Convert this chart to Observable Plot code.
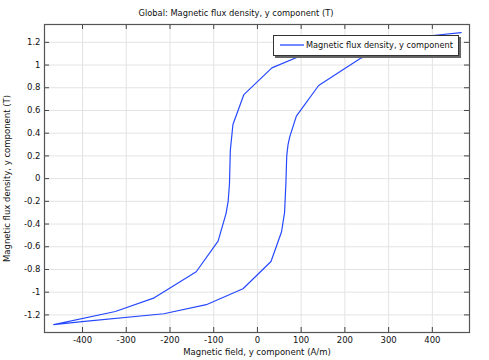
<!DOCTYPE html>
<html>
<head>
<meta charset="utf-8">
<script src="https://cdn.jsdelivr.net/npm/d3@7"></script>
<script src="https://cdn.jsdelivr.net/npm/@observablehq/plot@0.6"></script>
<style>
  body { margin: 0; background: #fff; }
  #wrap { position: relative; width: 489px; height: 360px; font-family: "DejaVu Sans", sans-serif; }
  #title { position: absolute; top: 8px; left: 0; width: 472px; text-align: center; font-size: 8.3px; color: #111; white-space: nowrap; }
  #legend { position: absolute; left: 273px; top: 35px; width: 186px; height: 21px; background: #fff; border: 1px solid #333;
            box-shadow: 2px 2px 0 #666; box-sizing: border-box; font-size: 8.2px; color: #111; white-space: nowrap; }
  #legend svg { position: absolute; left: 6px; top: 5px; }
  #legend .lb { position: absolute; left: 32px; top: 4px; }
</style>
</head>
<body>
<div id="wrap">
  <div id="title">Global: Magnetic flux density, y component (T)</div>
  <div id="chart"></div>
  <div id="legend"><svg width="24" height="8"><line x1="0" x2="24" y1="4" y2="4" stroke="#2649ff" stroke-width="1.3"/></svg><span class="lb">Magnetic flux density, y component</span></div>
</div>
<script>
// Hysteresis loop: ascending branch then descending branch
const H = [-466, -401, -214, -117, -33, 31, 55, 62, 65, 67, 70, 74, 89, 140, 236, 325, 401, 466,
           401, 214, 117, 33, -31, -56, -62, -64, -67, -72, -90, -140, -236, -325, -466];
const B = [-1.285, -1.26, -1.19, -1.11, -0.97, -0.73, -0.47, -0.3, -0.05, 0.2, 0.3, 0.37, 0.55, 0.82, 1.06, 1.17, 1.26, 1.285,
           1.26, 1.19, 1.11, 0.975, 0.74, 0.476, 0.25, -0.05, -0.2, -0.31, -0.55, -0.82, -1.05, -1.17, -1.285];
const xTicks = [-400, -300, -200, -100, 0, 100, 200, 300, 400];
const yTicks = [-1.2, -1, -0.8, -0.6, -0.4, -0.2, 0, 0.2, 0.4, 0.6, 0.8, 1, 1.2];
const xLabel = "Magnetic field, y component (A/m)";
const yLabel = "Magnetic flux density, y component (T)";

const data = H.map((h, i) => ({h, b: B[i]}));
const W = 489, Ht = 360, mL = 44, mR = 20, mT = 24, mB = 28;
const fw = W - mL - mR, fh = Ht - mT - mB;
const tk = 5;
const fmt = d => String(d).replace("−", "-");

const plot = Plot.plot({
  width: W, height: Ht,
  marginLeft: mL, marginRight: mR, marginTop: mT, marginBottom: mB,
  style: {fontFamily: "DejaVu Sans, sans-serif", fontSize: "8.5px", color: "#111", background: "#fff"},
  x: {domain: [-487, 485]},
  y: {domain: [-1.355, 1.357]},
  marks: [
    Plot.gridX(xTicks, {stroke: "#e3e3e3", strokeOpacity: 1}),
    Plot.gridY(yTicks, {stroke: "#e3e3e3", strokeOpacity: 1}),
    Plot.axisX(xTicks, {tickSize: 0, tickPadding: 4, tickFormat: fmt, label: xLabel, labelAnchor: "center", labelOffset: 22, labelArrow: "none"}),
    Plot.axisY(yTicks, {tickSize: 0, tickPadding: 4, tickFormat: fmt, label: yLabel, labelAnchor: "center", labelOffset: 41, labelArrow: "none"}),
    // inward tick marks on all four sides
    Plot.tickY(yTicks, {y: d => d, insetRight: fw - tk, stroke: "#444"}),
    Plot.tickY(yTicks, {y: d => d, insetLeft: fw - tk, stroke: "#444"}),
    Plot.tickX(xTicks, {x: d => d, insetTop: fh - tk, stroke: "#444"}),
    Plot.tickX(xTicks, {x: d => d, insetBottom: fh - tk, stroke: "#444"}),
    Plot.line(data, {x: "h", y: "b", stroke: "#2649ff", strokeWidth: 1.2}),
    Plot.frame({stroke: "#555", strokeWidth: 1.2})
  ]
});
document.getElementById("chart").appendChild(plot);
</script>
</body>
</html>
